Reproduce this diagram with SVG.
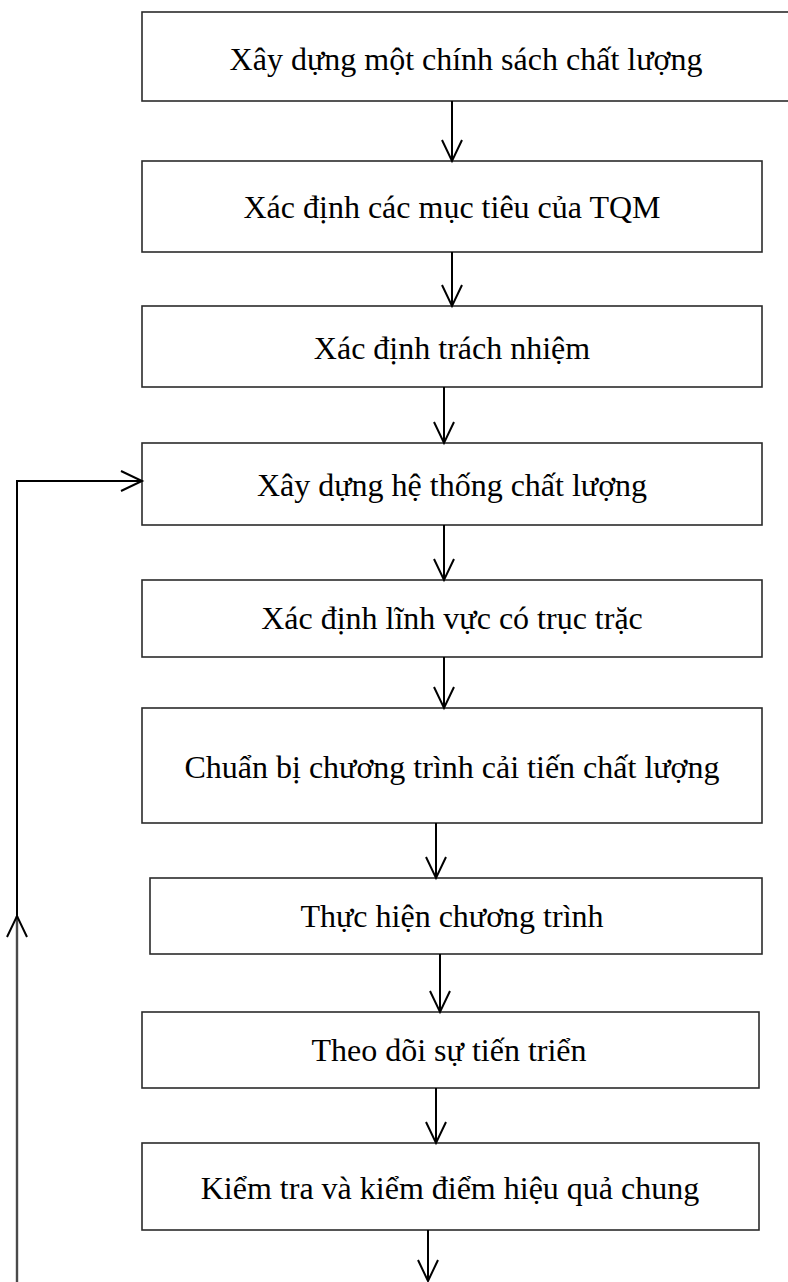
<svg xmlns="http://www.w3.org/2000/svg" width="788" height="1282" viewBox="0 0 788 1282">
  <style>
    .box { fill: #ffffff; stroke: #2b2b2b; stroke-width: 1.6; }
    .label { font-family: "Liberation Serif", "Times New Roman", serif; font-size: 32px; fill: #000000; text-anchor: middle; }
    .conn { fill: none; stroke: #000000; stroke-width: 2; }
    .conn-soft { fill: none; stroke: #4a4a4a; stroke-width: 2.4; }
  </style>
  <defs>
    <marker id="open-arrow" markerUnits="userSpaceOnUse" markerWidth="30" markerHeight="30" refX="0" refY="0" orient="auto" overflow="visible">
      <path d="M-21,-10 L0,0 L-21,10" fill="none" stroke="#000000" stroke-width="2"/>
    </marker>
  </defs>
  <rect width="788" height="1282" fill="#ffffff"/>

  <g id="node-policy">
    <rect class="box" x="142" y="12" width="652" height="89"/>
    <text class="label" x="466" y="70">Xây dựng một chính sách chất lượng</text>
  </g>
  <g id="node-objectives">
    <rect class="box" x="142" y="161" width="620" height="91"/>
    <text class="label" x="452" y="218">Xác định các mục tiêu của TQM</text>
  </g>
  <g id="node-responsibility">
    <rect class="box" x="142" y="306" width="620" height="81"/>
    <text class="label" x="452" y="359">Xác định trách nhiệm</text>
  </g>
  <g id="node-quality-system">
    <rect class="box" x="142" y="443" width="620" height="82"/>
    <text class="label" x="452" y="496">Xây dựng hệ thống chất lượng</text>
  </g>
  <g id="node-problem-areas">
    <rect class="box" x="142" y="580" width="620" height="77"/>
    <text class="label" x="452" y="629">Xác định lĩnh vực có trục trặc</text>
  </g>
  <g id="node-improvement-plan">
    <rect class="box" x="142" y="708" width="620" height="115"/>
    <text class="label" x="452" y="778">Chuẩn bị chương trình cải tiến chất lượng</text>
  </g>
  <g id="node-execute">
    <rect class="box" x="150" y="878" width="612" height="76"/>
    <text class="label" x="452" y="927">Thực hiện chương trình</text>
  </g>
  <g id="node-monitor">
    <rect class="box" x="142" y="1012" width="617" height="76"/>
    <text class="label" x="449" y="1061">Theo dõi sự tiến triển</text>
  </g>
  <g id="node-review">
    <rect class="box" x="142" y="1143" width="617" height="87"/>
    <text class="label" x="450" y="1199">Kiểm tra và kiểm điểm hiệu quả chung</text>
  </g>

  <g id="connectors">
    <path class="conn" d="M452,101 V161" marker-end="url(#open-arrow)"/>
    <path class="conn" d="M452,252 V306" marker-end="url(#open-arrow)"/>
    <path class="conn" d="M444,387 V443" marker-end="url(#open-arrow)"/>
    <path class="conn" d="M444,525 V580" marker-end="url(#open-arrow)"/>
    <path class="conn" d="M444,657 V708" marker-end="url(#open-arrow)"/>
    <path class="conn" d="M436,823 V878" marker-end="url(#open-arrow)"/>
    <path class="conn" d="M440,954 V1012" marker-end="url(#open-arrow)"/>
    <path class="conn" d="M436,1088 V1143" marker-end="url(#open-arrow)"/>
    <path class="conn" d="M428,1230 V1281" marker-end="url(#open-arrow)"/>
    <!-- feedback loop back to the quality system step -->
    <path class="conn-soft" d="M17,1282 V916" marker-end="url(#open-arrow)"/>
    <path class="conn" d="M17,916 V481 H142" marker-end="url(#open-arrow)"/>
  </g>
</svg>
